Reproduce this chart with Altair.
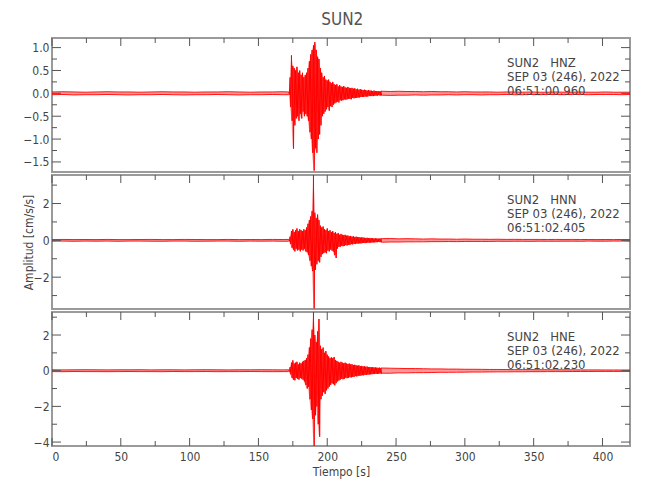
import altair as alt
import pandas as pd

FONT = "Liberation Sans Narrow, DejaVu Sans Condensed, Arial Narrow, sans-serif"
RED = "#ff0000"
TXT = "#444444"
FRAME = "#9a9a9a"
TICKC = "#555555"

W, H = 578, 134
X_DOMAIN = [0, 420]

# sample times (s)
T_PRE = list(range(0, 172, 8))          # 22 knots
T_EV = list(range(172, 240, 1))         # 68 knots
T_POST = list(range(240, 421, 6))       # 31 knots

# ---------------- HNZ ----------------
Z_PRE_HI = [0.03,0.035,0.03,0.025,0.03,0.035,0.03,0.03,0.025,0.03,0.035,0.03,0.03,0.025,0.03,0.03,0.035,0.03,0.025,0.03,0.03,0.035]
Z_PRE_LO = [-0.03,-0.025,-0.035,-0.03,-0.03,-0.025,-0.03,-0.035,-0.03,-0.03,-0.025,-0.03,-0.035,-0.03,-0.03,-0.025,-0.03,-0.035,-0.03,-0.03,-0.025,-0.03]
Z_EV_HI = [0.03,0.35,0.83,0.6,0.55,0.5,0.58,0.45,0.5,0.4,0.45,0.35,0.4,0.45,0.55,0.7,0.85,0.95,1.05,1.12,
           0.95,0.8,0.75,0.55,0.45,0.35,0.38,0.3,0.28,0.3,0.25,0.22,0.25,0.2,0.18,0.2,0.15,0.18,0.15,0.14,
           0.16,0.13,0.12,0.14,0.12,0.11,0.12,0.1,0.11,0.09,0.1,0.08,0.09,0.08,0.07,0.08,0.07,0.06,0.07,0.06,
           0.06,0.05,0.06,0.05,0.05,0.05,0.04,0.05]
Z_EV_LO = [-0.03,-0.3,-0.6,-1.21,-0.7,-0.55,-0.5,-0.6,-0.45,-0.55,-0.4,-0.5,-0.45,-0.5,-0.6,-0.85,-1.0,-1.3,-1.69,-1.2,
           -1.3,-1.0,-0.9,-0.7,-0.5,-0.45,-0.4,-0.35,-0.3,-0.38,-0.28,-0.3,-0.25,-0.22,-0.2,-0.18,-0.2,-0.15,-0.16,-0.15,
           -0.13,-0.14,-0.13,-0.12,-0.12,-0.13,-0.1,-0.11,-0.1,-0.1,-0.09,-0.09,-0.08,-0.08,-0.08,-0.07,-0.07,-0.07,-0.06,-0.06,
           -0.06,-0.06,-0.05,-0.05,-0.05,-0.04,-0.05,-0.04]
Z_POST_HI = [0.045,0.04,0.045,0.04,0.04,0.035,0.04,0.035,0.035,0.03,0.035,0.03,0.03,0.03,0.025,0.03,0.03,0.025,0.03,0.025,0.025,0.03,0.025,0.025,0.03,0.025,0.025,0.03,0.025,0.025,0.025]
Z_POST_LO = [-0.04,-0.045,-0.04,-0.04,-0.035,-0.04,-0.035,-0.035,-0.03,-0.035,-0.03,-0.03,-0.035,-0.03,-0.03,-0.025,-0.03,-0.03,-0.025,-0.03,-0.025,-0.025,-0.03,-0.025,-0.025,-0.03,-0.025,-0.025,-0.025,-0.03,-0.025]

# ---------------- HNN ----------------
N_PRE_HI = [0.04,0.05,0.04,0.045,0.04,0.05,0.04,0.04,0.045,0.05,0.04,0.04,0.05,0.045,0.04,0.04,0.05,0.04,0.045,0.04,0.05,0.045]
N_PRE_LO = [-0.045,-0.04,-0.05,-0.04,-0.045,-0.04,-0.05,-0.04,-0.04,-0.045,-0.05,-0.04,-0.04,-0.05,-0.045,-0.04,-0.04,-0.05,-0.04,-0.045,-0.04,-0.05]
N_EV_HI = [0.05,0.2,0.5,0.6,0.45,0.55,0.65,0.5,0.6,0.55,0.5,0.6,0.55,0.7,0.9,1.1,1.3,1.6,3.55,1.5,
           1.2,1.4,1.1,0.8,0.7,0.75,0.6,0.55,0.65,0.5,0.55,0.45,0.5,0.4,0.45,0.35,0.4,0.3,0.35,0.3,
           0.28,0.3,0.25,0.26,0.22,0.24,0.2,0.22,0.18,0.2,0.17,0.18,0.15,0.16,0.15,0.14,0.13,0.14,0.12,0.13,
           0.11,0.12,0.1,0.11,0.1,0.1,0.09,0.1]
N_EV_LO = [-0.05,-0.2,-0.4,-0.5,-0.6,-0.45,-0.55,-0.5,-0.6,-0.5,-0.55,-0.45,-0.6,-0.65,-0.8,-1.1,-1.4,-1.67,-3.7,-1.6,
           -1.3,-1.1,-1.2,-0.9,-0.75,-0.7,-0.65,-0.7,-0.55,-0.6,-0.5,-0.55,-0.6,-0.8,-0.96,-0.45,-0.35,-0.35,-0.3,-0.32,
           -0.3,-0.26,-0.28,-0.24,-0.25,-0.2,-0.22,-0.19,-0.2,-0.17,-0.18,-0.16,-0.17,-0.15,-0.14,-0.15,-0.14,-0.12,-0.13,-0.12,
           -0.12,-0.11,-0.11,-0.1,-0.1,-0.09,-0.1,-0.09]
N_POST_HI = [0.09,0.1,0.08,0.09,0.08,0.07,0.08,0.07,0.07,0.06,0.07,0.06,0.06,0.055,0.06,0.05,0.055,0.05,0.05,0.05,0.045,0.05,0.045,0.05,0.045,0.045,0.04,0.045,0.04,0.045,0.04]
N_POST_LO = [-0.1,-0.09,-0.09,-0.08,-0.08,-0.08,-0.07,-0.07,-0.065,-0.07,-0.06,-0.06,-0.06,-0.06,-0.05,-0.055,-0.05,-0.05,-0.055,-0.045,-0.05,-0.05,-0.045,-0.045,-0.05,-0.04,-0.045,-0.045,-0.04,-0.04,-0.045]

# ---------------- HNE ----------------
E_PRE_HI = [0.05,0.045,0.05,0.055,0.05,0.045,0.05,0.05,0.055,0.045,0.05,0.05,0.045,0.05,0.055,0.05,0.045,0.05,0.05,0.055,0.05,0.045]
E_PRE_LO = [-0.05,-0.055,-0.045,-0.05,-0.05,-0.055,-0.05,-0.045,-0.05,-0.05,-0.055,-0.045,-0.05,-0.05,-0.045,-0.055,-0.05,-0.05,-0.045,-0.05,-0.055,-0.05]
E_EV_HI = [0.05,0.2,0.45,0.58,0.4,0.45,0.5,0.35,0.45,0.4,0.5,0.55,0.6,0.7,0.9,1.3,1.8,2.3,3.29,2.0,
           1.6,2.2,2.9,1.4,1.2,1.3,1.0,1.1,0.9,0.8,0.7,0.75,0.7,0.77,0.6,0.55,0.5,0.45,0.5,0.45,
           0.42,0.45,0.4,0.38,0.4,0.35,0.36,0.32,0.33,0.3,0.28,0.3,0.26,0.27,0.24,0.25,0.22,0.23,0.2,0.21,
           0.19,0.2,0.18,0.18,0.17,0.16,0.17,0.15]
E_EV_LO = [-0.05,-0.2,-0.4,-0.5,-0.54,-0.4,-0.45,-0.5,-0.4,-0.45,-0.5,-0.6,-0.8,-1.0,-0.9,-1.6,-2.2,-2.7,-4.22,-2.5,
           -2.0,-3.0,-3.7,-1.6,-1.4,-1.2,-1.3,-1.1,-1.0,-0.9,-0.8,-0.7,-0.75,-0.82,-0.7,-0.6,-0.55,-0.5,-0.45,-0.48,
           -0.45,-0.4,-0.42,-0.4,-0.36,-0.38,-0.34,-0.35,-0.3,-0.32,-0.3,-0.27,-0.28,-0.25,-0.26,-0.23,-0.24,-0.21,-0.22,-0.2,
           -0.2,-0.18,-0.19,-0.17,-0.18,-0.17,-0.15,-0.16]
E_POST_HI = [0.15,0.14,0.13,0.12,0.12,0.11,0.1,0.1,0.09,0.09,0.08,0.08,0.075,0.07,0.07,0.065,0.06,0.06,0.06,0.055,0.055,0.05,0.05,0.05,0.045,0.045,0.045,0.04,0.04,0.04,0.04]
E_POST_LO = [-0.14,-0.14,-0.12,-0.12,-0.11,-0.11,-0.1,-0.09,-0.09,-0.085,-0.08,-0.075,-0.075,-0.07,-0.065,-0.065,-0.06,-0.06,-0.055,-0.055,-0.05,-0.05,-0.05,-0.045,-0.045,-0.045,-0.04,-0.04,-0.04,-0.04,-0.04]

CHANNELS = ["HNZ", "HNN", "HNE"]
START_TIMES = ["06:51:00.960", "06:51:02.405", "06:51:02.230"]
DATE_LINE = "SEP 03 (246), 2022"
STATION = "SUN2"

Y_DOMAINS = [[-1.72, 1.21], [-3.73, 3.55], [-4.22, 3.29]]
Y_MAJOR = [[1.0, 0.5, 0.0, -0.5, -1.0, -1.5], [2, 0, -2], [2, 0, -2, -4]]
Y_MINOR = [[0.75, 0.25, -0.25, -0.75, -1.25], [3, 1, -1, -3], [3, 1, -1, -3]]
Y_FORMAT = [".1f", "d", "d"]
X_MAJOR = [0, 50, 100, 150, 200, 250, 300, 350, 400]
X_MINOR = [25, 75, 125, 175, 225, 275, 325, 375]

SERIES = [
    (Z_PRE_HI, Z_PRE_LO, Z_EV_HI, Z_EV_LO, Z_POST_HI, Z_POST_LO),
    (N_PRE_HI, N_PRE_LO, N_EV_HI, N_EV_LO, N_POST_HI, N_POST_LO),
    (E_PRE_HI, E_PRE_LO, E_EV_HI, E_EV_LO, E_POST_HI, E_POST_LO),
]


def envelope_frame(times, hi, lo, seg):
    return pd.DataFrame({"t": times, "hi": hi, "lo": lo, "seg": seg})


def zigzag_frame(times, hi, lo):
    rows = []
    n = len(times)
    for i in range(n):
        t = times[i]
        dt = (times[i + 1] - t) if i + 1 < n else (t - times[i - 1])
        rows.append({"t": t, "v": hi[i], "o": 2 * i})
        rows.append({"t": t + dt / 2.0, "v": lo[i], "o": 2 * i + 1})
    return pd.DataFrame(rows)


def panel(k):
    pre_hi, pre_lo, ev_hi, ev_lo, post_hi, post_lo = SERIES[k]
    env = pd.concat([
        envelope_frame(T_PRE + [T_EV[0]], pre_hi + [ev_hi[0]], pre_lo + [ev_lo[0]], "pre"),
        envelope_frame(T_EV, ev_hi, ev_lo, "ev"),
        envelope_frame([T_EV[-1]] + T_POST, [ev_hi[-1]] + post_hi, [ev_lo[-1]] + post_lo, "post"),
    ])
    quiet = env[env.seg != "ev"]
    zz = zigzag_frame(T_EV, ev_hi, ev_lo)

    yscale = alt.Scale(domain=Y_DOMAINS[k], nice=False, zero=False)
    xscale = alt.Scale(domain=X_DOMAIN, nice=False, zero=False)
    last = k == 2
    xaxis = alt.Axis(values=X_MAJOR, format="d", title="Tiempo [s]", labelPadding=5, titlePadding=4) if last else None
    yaxis = alt.Axis(values=Y_MAJOR[k], format=Y_FORMAT[k],
                     title="Amplitud [cm/s/s]" if k == 1 else None, titleX=-17)

    X = lambda: alt.X("t:Q", scale=xscale, axis=xaxis)

    band = alt.Chart(env).mark_area(color=RED, opacity=0.4, clip=True).encode(
        x=X(), y=alt.Y("lo:Q", scale=yscale, axis=yaxis), y2="hi:Q", detail="seg:N")
    edge_hi = alt.Chart(quiet).mark_line(color=RED, strokeWidth=0.9, clip=True).encode(
        x=X(), y=alt.Y("hi:Q", scale=yscale, axis=yaxis), detail="seg:N")
    edge_lo = alt.Chart(quiet).mark_line(color=RED, strokeWidth=0.9, clip=True).encode(
        x=X(), y=alt.Y("lo:Q", scale=yscale, axis=yaxis), detail="seg:N")
    trace = alt.Chart(zz).mark_line(color=RED, strokeWidth=1, clip=True).encode(
        x=X(), y=alt.Y("v:Q", scale=yscale, axis=yaxis), order="o:Q")

    ymaj = pd.DataFrame({"v": Y_MAJOR[k]})
    ymin = pd.DataFrame({"v": Y_MINOR[k]})
    xmaj = pd.DataFrame({"t": X_MAJOR})
    xmin = pd.DataFrame({"t": X_MINOR})

    def yt(d, x1, x2):
        return alt.Chart(d).mark_rule(color=TICKC, strokeWidth=1).encode(
            y=alt.Y("v:Q", scale=yscale, axis=yaxis), x=alt.value(x1), x2=alt.value(x2))

    def xt(d, y1, y2):
        return alt.Chart(d).mark_rule(color=TICKC, strokeWidth=1).encode(
            x=X(), y=alt.value(y1), y2=alt.value(y2))

    layers = [
        band, edge_hi, edge_lo, trace,
        yt(ymaj, 0, 9), yt(ymin, 0, 5), yt(ymaj, W - 9, W), yt(ymin, W - 5, W),
        xt(xmaj, 0, 8), xt(xmin, 0, 5),
    ]
    if last:
        layers += [xt(xmaj, H - 8, H), xt(xmin, H - 5, H)]

    label = alt.Chart(pd.DataFrame({"a": [0]})).mark_text(
        align="left", baseline="top", font=FONT, fontSize=13, color=TXT, lineHeight=14,
        text=[STATION + "\u00a0\u00a0\u00a0" + CHANNELS[k], DATE_LINE, START_TIMES[k]],
    ).encode(x=alt.value(455), y=alt.value(19))
    layers.append(label)

    return alt.layer(*layers).properties(width=W, height=H)


chart = alt.vconcat(panel(0), panel(1), panel(2), spacing=0).properties(
    title=alt.TitleParams(STATION, font=FONT, fontSize=17, fontWeight="normal", color="#555555",
                          anchor="middle", offset=8, dx=16),
    padding={"left": 12, "top": 2, "right": 5, "bottom": 5},
).configure_view(stroke=FRAME, strokeWidth=2).configure_axis(
    labelFont=FONT, labelFontSize=12, labelColor=TXT, titleFont=FONT, titleFontSize=12,
    titleColor=TXT, titleFontWeight="normal", grid=False, domain=False, ticks=False, labelPadding=3,
).configure_concat(spacing=0)

chart.save("out.html", embed_options={"renderer": "svg", "actions": False})
